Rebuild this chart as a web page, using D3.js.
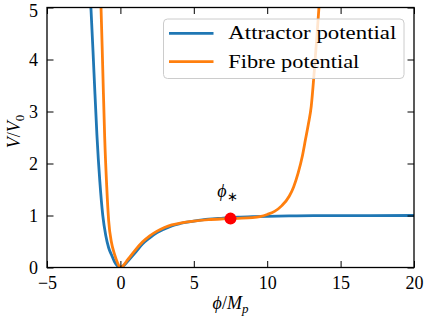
<!DOCTYPE html>
<html>
<head>
<meta charset="utf-8">
<script src="https://cdn.jsdelivr.net/npm/d3@7"></script>
<style>
  body { margin: 0; background: #fff; }
</style>
</head>
<body>
<svg id="chart"></svg>
<script>
// Attractor potential
const attractorPhi = [-2.1, -2.0, -1.8, -1.6, -1.4, -1.2, -1.0, -0.8, -0.6, -0.4, -0.2, 0,
  0.2, 0.5, 1.0, 1.5, 2.0, 2.5, 3.0, 3.5, 4.0, 5.0, 6.0, 7.0, 8.0, 9.0, 10, 12, 14, 17, 20];
const attractorV = [5.4, 4.95, 3.75, 2.55, 1.65, 1.0, 0.62, 0.38, 0.24, 0.11, 0.03, 0,
  0.03, 0.12, 0.28, 0.45, 0.57, 0.67, 0.74, 0.8, 0.84, 0.89, 0.93, 0.95, 0.97, 0.98, 0.985, 0.993, 0.997, 0.999, 1.0];

// Fibre potential
const fibrePhi = [-1.36, -1.32, -1.2, -1.07, -0.93, -0.8, -0.6, -0.45, -0.3, -0.15, 0,
  0.2, 0.5, 1.0, 1.5, 2.0, 2.5, 3.0, 3.5, 4.0, 5.0, 6.0, 7.0, 8.0, 9.0, 9.5, 10.0, 10.5,
  11.0, 11.5, 11.8, 12.1, 12.4, 12.6, 12.8, 13.0, 13.2, 13.4, 13.55];
const fibreV = [5.3, 5.0, 3.8, 2.5, 1.55, 0.9, 0.47, 0.3, 0.17, 0.06, 0,
  0.04, 0.15, 0.33, 0.49, 0.61, 0.7, 0.77, 0.82, 0.85, 0.89, 0.92, 0.935, 0.945, 0.96, 0.98, 1.02, 1.08,
  1.19, 1.37, 1.55, 1.81, 2.15, 2.45, 2.75, 3.1, 3.75, 4.5, 5.1];

// phi_* marker
const starPhi = 7.5;
const starV = 0.94;

const xTicks = [-5, 0, 5, 10, 15, 20];
const yTicks = [0, 1, 2, 3, 4, 5];
const seriesNames = ["Attractor potential", "Fibre potential"];
const seriesColors = ["#1f77b4", "#ff7f0e"];

// Liberation Serif is the only real serif here; widen legend text a bit to look like CM
const FONT = "'Liberation Serif', 'Times New Roman', serif";
const legendWidths = [168, 131];

const width = 426, height = 324;
const svg = d3.select("#chart").attr("width", width).attr("height", height)
  .style("font-family", FONT);

const x = d3.scaleLinear().domain([-5, 20]).range([47, 414]);
const y = d3.scaleLinear().domain([0, 5]).range([267.5, 7.5]);

svg.append("defs").append("clipPath").attr("id", "plot-clip")
  .append("rect")
  .attr("x", x(-5)).attr("y", y(5))
  .attr("width", x(20) - x(-5)).attr("height", y(0) - y(5));

const line = d3.line()
  .x(d => x(d[0]))
  .y(d => y(d[1]))
  .curve(d3.curveMonotoneX);

const series = [
  d3.zip(attractorPhi, attractorV),
  d3.zip(fibrePhi, fibreV)
];

const plot = svg.append("g").attr("clip-path", "url(#plot-clip)");
series.forEach((pts, i) => {
  plot.append("path")
    .datum(pts)
    .attr("fill", "none")
    .attr("stroke", seriesColors[i])
    .attr("stroke-width", 2.8)
    .attr("stroke-linejoin", "round")
    .attr("d", line);
});

// red dot at phi_*
plot.append("circle")
  .attr("cx", x(starPhi)).attr("cy", y(starV))
  .attr("r", 6)
  .attr("fill", "#ff0000");

svg.append("text")
  .attr("x", x(starPhi) - 3)
  .attr("y", y(starV) - 22)
  .attr("text-anchor", "middle")
  .attr("font-size", 18)
  .call(t => {
    t.append("tspan").attr("font-style", "italic").text("ϕ");
    t.append("tspan").attr("dy", 4).attr("font-size", 13).text("∗");
  });

// axes, ticks pointing in on all four sides
const tickLen = 6.5;
const fontSize = 18;

function styleAxis(g) {
  g.attr("font-family", null).attr("font-size", null);
  g.select(".domain").remove();
  g.selectAll(".tick line").attr("stroke", "#000").attr("stroke-width", 1);
  g.selectAll(".tick text").attr("fill", "#000")
    .style("font-family", FONT).style("font-size", fontSize + "px");
}

svg.append("g")
  .attr("transform", `translate(0,${y(0)})`)
  .call(d3.axisBottom(x).tickValues(xTicks).tickFormat(d3.format("d"))
    .tickSizeInner(-tickLen).tickSizeOuter(0).tickPadding(9))
  .call(styleAxis);

svg.append("g")
  .attr("transform", `translate(0,${y(5)})`)
  .call(d3.axisTop(x).tickValues(xTicks).tickSizeInner(-tickLen).tickSizeOuter(0).tickFormat(""))
  .call(styleAxis);

const leftAxis = svg.append("g")
  .attr("transform", `translate(${x(-5)},0)`)
  .call(d3.axisLeft(y).tickValues(yTicks).tickFormat(d3.format("d"))
    .tickSizeInner(-tickLen).tickSizeOuter(0).tickPadding(9))
  .call(styleAxis);
// top label sits a little lower in the original
leftAxis.selectAll(".tick text").filter(d => d === 5).attr("y", 3);

svg.append("g")
  .attr("transform", `translate(${x(20)},0)`)
  .call(d3.axisRight(y).tickValues(yTicks).tickSizeInner(-tickLen).tickSizeOuter(0).tickFormat(""))
  .call(styleAxis);

// frame
svg.append("rect")
  .attr("x", x(-5)).attr("y", y(5))
  .attr("width", x(20) - x(-5)).attr("height", y(0) - y(5))
  .attr("fill", "none")
  .attr("stroke", "#000")
  .attr("stroke-width", 1.3);

// axis labels
svg.append("text")
  .attr("x", (x(-5) + x(20)) / 2)
  .attr("y", 309)
  .attr("text-anchor", "middle")
  .attr("font-size", fontSize)
  .call(t => {
    t.append("tspan").attr("font-style", "italic").text("ϕ");
    t.append("tspan").text("/");
    t.append("tspan").attr("font-style", "italic").text("M");
    t.append("tspan").attr("font-style", "italic").attr("font-size", 13).attr("dy", 4).text("p");
  });

svg.append("text")
  .attr("transform", `translate(20,${(y(0) + y(5)) / 2 - 6}) rotate(-90)`)
  .attr("text-anchor", "middle")
  .attr("font-size", fontSize)
  .call(t => {
    t.append("tspan").attr("font-style", "italic").text("V");
    t.append("tspan").text("/");
    t.append("tspan").attr("font-style", "italic").text("V");
    t.append("tspan").attr("font-size", 13).attr("dy", 4).text("0");
  });

// legend
const legend = svg.append("g");
legend.append("rect")
  .attr("x", 163.5).attr("y", 19)
  .attr("width", 240.5).attr("height", 59.5)
  .attr("rx", 4)
  .attr("fill", "#fff")
  .attr("fill-opacity", 0.8)
  .attr("stroke", "#cccccc")
  .attr("stroke-width", 1);

const rowY = [33.3, 61.7];
seriesNames.forEach((name, i) => {
  legend.append("line")
    .attr("x1", 169).attr("x2", 213.5)
    .attr("y1", rowY[i]).attr("y2", rowY[i])
    .attr("stroke", seriesColors[i])
    .attr("stroke-width", 2.8);
  legend.append("text")
    .attr("x", 228.3)
    .attr("y", rowY[i] + 6)
    .attr("font-size", fontSize)
    .attr("textLength", legendWidths[i])
    .attr("lengthAdjust", "spacingAndGlyphs")
    .text(name);
});
</script>
</body>
</html>
